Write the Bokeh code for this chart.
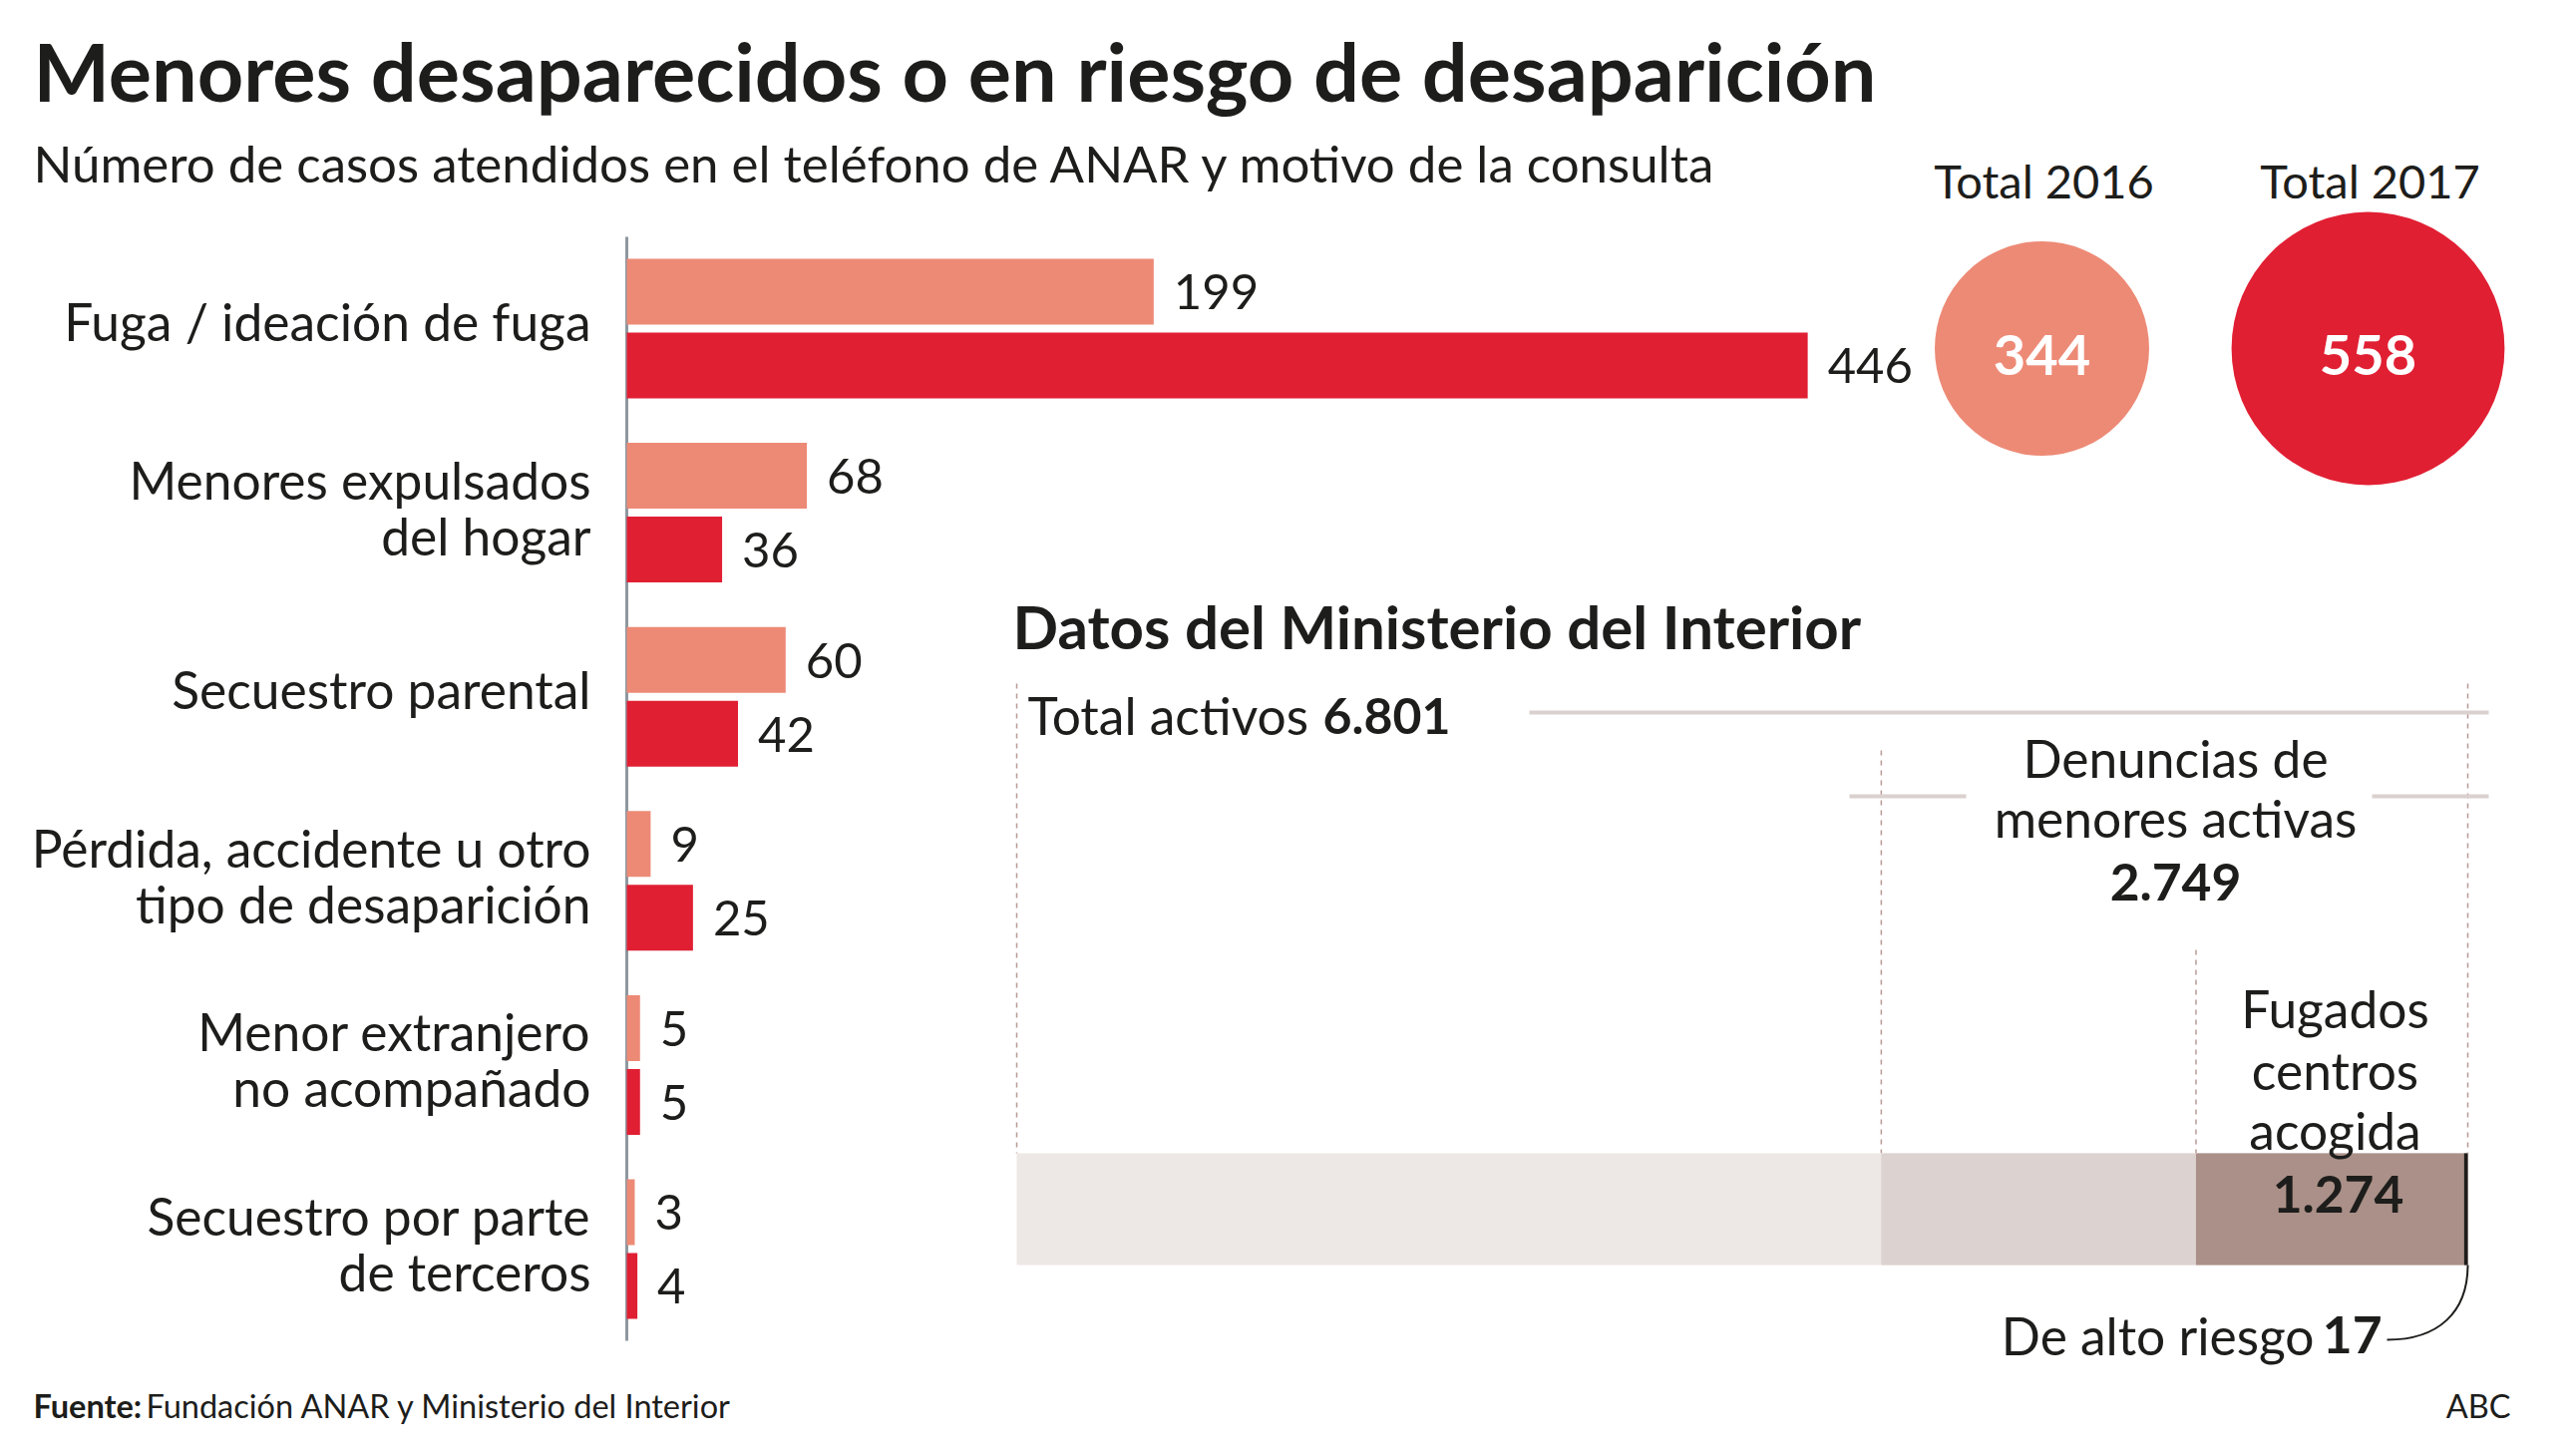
from bokeh.plotting import figure
from bokeh.models import Range1d
from bokeh.core.properties import value
from bokeh.embed import file_html
from bokeh.resources import INLINE

# ---------------- data ----------------
categories = [
    "Fuga / ideación de fuga",
    "Menores expulsados\ndel hogar",
    "Secuestro parental",
    "Pérdida, accidente u otro\ntipo de desaparición",
    "Menor extranjero\nno acompañado",
    "Secuestro por parte\nde terceros",
]
values_2016 = [199, 68, 60, 9, 5, 3]
values_2017 = [446, 36, 42, 25, 5, 4]
years = ["2016", "2017"]
totals = [344, 558]

interior_labels = ["Total activos", "Denuncias de menores activas", "Fugados centros acogida", "De alto riesgo"]
interior_values = [6801, 2749, 1274, 17]

# ---------------- style / layout ----------------
FONT = "Lato"
INK = "#1d1d1b"
C2016 = "#ed8a76"
C2017 = "#e11f33"
AXIS_C = "#8f989f"
INT_COLORS = ["#ede7e5", "#dcd2d0", "#aa9088", "#1d1d1b"]
RULE_C = "#dad1cf"
DASH_C = "#b89a96"
LBL = 51.5

W, H = 2567, 1438
p = figure(width=W, height=H, x_range=Range1d(0, W), y_range=Range1d(H, 0),
           output_backend="svg", toolbar_location=None,
           x_axis_location=None, y_axis_location=None, min_border=0)
p.grid.visible = False
p.outline_line_color = None
p.background_fill_color = "white"
p.border_fill_color = "white"

# scales for the bar chart (cases) and for the interior bar
X0, K = 628, 2.655
X1, K2 = 1019, 1455 / 6801
p.extra_x_ranges = {
    "cases": Range1d((0 - X0) / K, (W - X0) / K),
    "interior": Range1d((0 - X1) / K2, (W - X1) / K2),
}

TDY = 0.34  # baseline correction (fraction of font size)


def txt(x, y, s, size, bold=False, align="left", color=INK, rng="default", **kw):
    p.text(x=[x], y=[y - TDY * size], text=[s], text_font=value(FONT),
           text_font_size=f"{size}px",
           text_font_style="bold" if bold else "normal", text_align=align,
           text_baseline="alphabetic", text_color=color, x_range_name=rng, **kw)


# ---------------- titles ----------------
txt(33, 98, "Menores desaparecidos o en riesgo de desaparición", 81, bold=True)
txt(33, 180, "Número de casos atendidos en el teléfono de ANAR y motivo de la consulta", 51)

# ---------------- bar chart ----------------
TOP, PITCH, BH, GAP = 259, 184.6, 66, 8
n = len(categories)
y16 = [TOP + BH / 2 + PITCH * i for i in range(n)]
y17 = [TOP + BH * 1.5 + GAP + PITCH * i for i in range(n)]

p.segment(x0=[0], x1=[0], y0=[237], y1=[1344], line_color=AXIS_C, line_width=3,
          x_range_name="cases")
p.hbar(y=y16, left=0, right=values_2016, height=BH, fill_color=C2016, line_color=None,
       x_range_name="cases")
p.hbar(y=y17, left=0, right=values_2017, height=BH, fill_color=C2017, line_color=None,
       x_range_name="cases")
VS = 49
for vals, ys in ((values_2016, y16), (values_2017, y17)):
    p.text(x=vals, y=[v + 17 - TDY * VS for v in ys], text=[str(v) for v in vals],
           x_offset=20, text_font=value(FONT), text_font_size=f"{VS}px", text_color=INK,
           text_baseline="alphabetic", x_range_name="cases")

for i, cat in enumerate(categories):
    gc = TOP + (2 * BH + GAP) / 2 + PITCH * i
    lines = cat.split("\n")
    if len(lines) == 1:
        txt(592, gc + 10, lines[0], LBL, align="right")
    else:
        txt(592, gc - 16, lines[0], LBL, align="right")
        txt(592, gc + 40, lines[1], LBL, align="right")

# ---------------- totals circles ----------------
CX = [2047, 2374]
CY = 349
RC = 107.5 / (344 ** 0.5)
p.circle(x=CX, y=[CY, CY], radius=[RC * t ** 0.5 for t in totals],
         fill_color=[C2016, C2017], line_color=None)
for cx, yr, t in zip(CX, years, totals):
    txt(cx + 2, 196, f"Total {yr}", 47, align="center")
    txt(cx, CY + 26, str(t), 56, bold=True, align="center", color="white")

# ---------------- Ministerio del Interior ----------------
total = interior_values[0]
txt(1015, 648, "Datos del Ministerio del Interior", 60, bold=True)

# dashed guides at segment boundaries
bounds = [0] + [total - v for v in interior_values[1:3]] + [total]
p.segment(x0=bounds, x1=bounds, y0=[685, 752, 952, 685], y1=[1156] * 4,
          line_color=DASH_C, line_width=1.5, line_dash="5 5", x_range_name="interior")

# horizontal rules
p.segment(x0=[1533, 1854, 2378], x1=[2495, 1971, 2495], y0=[714, 798, 798],
          y1=[714, 798, 798], line_color=RULE_C, line_width=4)

# nested bar (each segment ends at the total)
p.hbar(y=[1212] * 4, left=[total - v for v in interior_values], right=[total] * 4,
       height=112, fill_color=INT_COLORS, line_color=None, x_range_name="interior")

txt(1030, 734, "Total activos", LBL)
txt(1326, 734, "6.801", 50, bold=True)

txt(2181, 777, "Denuncias de", LBL, align="center")
txt(2181, 837, "menores activas", LBL, align="center")
txt(2181, 902, "2.749", LBL, bold=True, align="center")

txt(2341, 1028, "Fugados", LBL, align="center")
txt(2341, 1090, "centros", LBL, align="center")
txt(2341, 1150, "acogida", LBL, align="center")
txt(2344, 1215, "1.274", LBL, bold=True, align="center")

txt(2320, 1356, "De alto riesgo", LBL, align="right")
txt(2388, 1356, "17", LBL, bold=True, align="right")
p.bezier(x0=[2393], y0=[1343], x1=[2474], y1=[1268], cx0=[2445], cy0=[1343],
         cx1=[2474], cy1=[1315], line_color=INK, line_width=2)

# ---------------- footer ----------------
txt(33, 1420, "Fuente:", 32.5, bold=True)
txt(146, 1420, "Fundación ANAR y Ministerio del Interior", 32.5)
txt(2517, 1420, "ABC", 32.5, align="right")

open("out.html", "w").write(file_html(p, INLINE))
